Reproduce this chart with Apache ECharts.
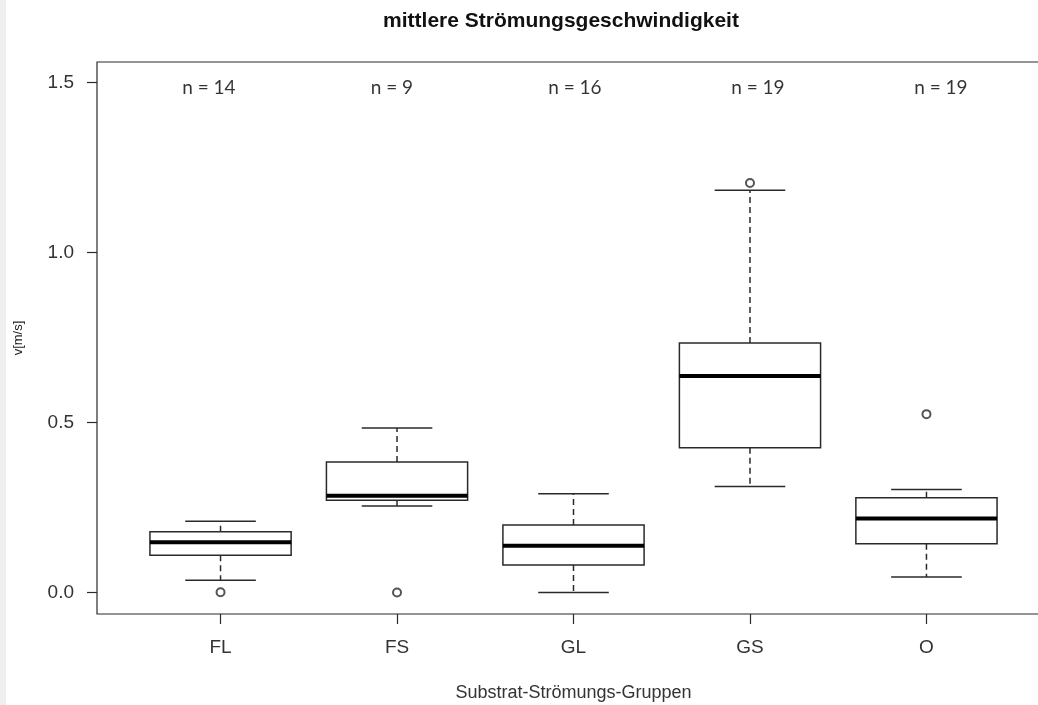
<!DOCTYPE html>
<html>
<head>
<meta charset="utf-8">
<script src="https://cdn.jsdelivr.net/npm/echarts@6/dist/echarts.min.js"></script>
<style>
  html, body { margin: 0; padding: 0; background: #ffffff; }
  #chart { width: 1038px; height: 705px; }
</style>
</head>
<body>
<div id="chart"></div>
<script>
// ---- data ----
const categories   = ['FL', 'FS', 'GL', 'GS', 'O'];
const lowerWhisker = [0.036, 0.255, 0.000, 0.312, 0.046];
const q1Values     = [0.110, 0.272, 0.081, 0.426, 0.144];
const medianValues = [0.148, 0.285, 0.138, 0.637, 0.218];
const q3Values     = [0.179, 0.384, 0.199, 0.734, 0.279];
const upperWhisker = [0.210, 0.484, 0.291, 1.184, 0.303];
const outlierGroup = [0, 1, 3, 4];           // index into categories
const outlierValue = [0.001, 0.000, 1.205, 0.525];
const nCounts      = [14, 9, 16, 19, 19];
const yTicks       = [0, 0.5, 1.0, 1.5];
const titleText    = 'mittlere Strömungsgeschwindigkeit';
const xTitle       = 'Substrat-Strömungs-Gruppen';
const yTitle       = 'v[m/s]';

// ---- build ----
const boxData = categories.map((c, i) => [i + 1, lowerWhisker[i], q1Values[i], medianValues[i], q3Values[i], upperWhisker[i]]);
const outlierData = outlierGroup.map((g, k) => [g + 1, outlierValue[k]]);
// the "n = .." annotations in the reference are spread slightly wider than the boxes
const nLabelData = nCounts.map((n, i) => ({
  value: [i + 1, 1.5], n: n,
  label: { offset: [1.4 + 6.5 * (i - 2), 5] }
}));

const lineCol = '#2a2a2a';
const BOXW = 0.8, CAPW = 0.4;

function renderBox(params, api) {
  const x = api.value(0);
  const lo = api.value(1), q1 = api.value(2), md = api.value(3), q3 = api.value(4), hi = api.value(5);
  const pL = api.coord([x - BOXW / 2, q3]);
  const pR = api.coord([x + BOXW / 2, q1]);
  const pMd = api.coord([x, md]);
  const cx = api.coord([x, 0])[0];
  const cL = api.coord([x - CAPW / 2, 0])[0];
  const cR = api.coord([x + CAPW / 2, 0])[0];
  const yLo = api.coord([x, lo])[1];
  const yHi = api.coord([x, hi])[1];
  const dash = { stroke: lineCol, lineWidth: 1.5, lineDash: [6, 4] };
  const solid = { stroke: lineCol, lineWidth: 1.5 };
  return {
    type: 'group',
    children: [
      { type: 'line', shape: { x1: cx, y1: pL[1], x2: cx, y2: yHi }, style: dash },
      { type: 'line', shape: { x1: cx, y1: pR[1], x2: cx, y2: yLo }, style: dash },
      { type: 'line', shape: { x1: cL, y1: yHi, x2: cR, y2: yHi }, style: solid },
      { type: 'line', shape: { x1: cL, y1: yLo, x2: cR, y2: yLo }, style: solid },
      { type: 'rect', shape: { x: pL[0], y: pL[1], width: pR[0] - pL[0], height: pR[1] - pL[1] },
        style: { fill: '#ffffff', stroke: lineCol, lineWidth: 1.5 } },
      { type: 'line', shape: { x1: pL[0], y1: pMd[1], x2: pR[0], y2: pMd[1] },
        style: { stroke: '#000000', lineWidth: 4 } }
    ]
  };
}

const chart = echarts.init(document.getElementById('chart'), null, { renderer: 'canvas' });
chart.setOption({
  animation: false,
  backgroundColor: '#ffffff',
  textStyle: { fontFamily: 'Liberation Sans, Arial, sans-serif' },
  grid: { left: 97, top: 62, width: 953, height: 552, outerBoundsMode: 'none', containLabel: false,
          show: true, borderColor: lineCol, borderWidth: 1.2, backgroundColor: 'transparent' },
  xAxis: {
    type: 'value', min: 0.3, max: 5.7,
    splitLine: { show: false },
    axisLine: { show: false, onZero: false },
    axisTick: { show: true, length: 10, inside: false, customValues: [1, 2, 3, 4, 5], lineStyle: { color: lineCol, width: 1.2 } },
    axisLabel: { customValues: [1, 2, 3, 4, 5], formatter: v => categories[Math.round(v) - 1] || '', fontSize: 19, color: '#333', margin: 24, fontFamily: 'Liberation Sans' },
    name: xTitle, nameLocation: 'middle', nameGap: 70,
    nameTextStyle: { fontSize: 18, color: '#333', fontFamily: 'Liberation Sans' }
  },
  yAxis: {
    type: 'value', min: -0.063, max: 1.561,
    splitLine: { show: false },
    axisLine: { show: false, onZero: false },
    axisTick: { show: true, length: 10, inside: false, customValues: yTicks, lineStyle: { color: lineCol, width: 1.2 } },
    axisLabel: { customValues: yTicks, formatter: v => v.toFixed(1), fontSize: 19, color: '#333', margin: 23, fontFamily: 'Liberation Sans' },
    name: yTitle, nameLocation: 'middle', nameGap: 72, nameRotate: 90,
    nameTextStyle: { fontSize: 13, color: '#222', fontFamily: 'Liberation Sans' }
  },
  graphic: [
    { type: 'rect', left: 0, top: 0, shape: { width: 6, height: 705 }, style: { fill: '#efefef' }, silent: true },
    { type: 'text', x: 561, y: 11, style: { text: titleText, textAlign: 'center', textVerticalAlign: 'top', font: 'bold 21px "Liberation Sans", Arial, sans-serif', fill: '#111' } }
  ],
  series: [
    { type: 'custom', renderItem: renderBox, data: boxData, encode: { x: 0, y: [1, 2, 3, 4, 5] }, z: 2 },
    { type: 'scatter', data: outlierData, symbol: 'emptyCircle', symbolSize: 8,
      itemStyle: { color: lineCol, borderColor: lineCol, borderWidth: 1.2 }, z: 3 },
    { type: 'scatter', data: nLabelData, symbolSize: 1, itemStyle: { color: 'rgba(0,0,0,0)' },
      label: { show: true, position: 'inside', formatter: p => 'n = ' + p.data.n,
               fontSize: 19, color: '#000', fontFamily: 'Lato' }, z: 4 }
  ]
});
</script>
</body>
</html>
